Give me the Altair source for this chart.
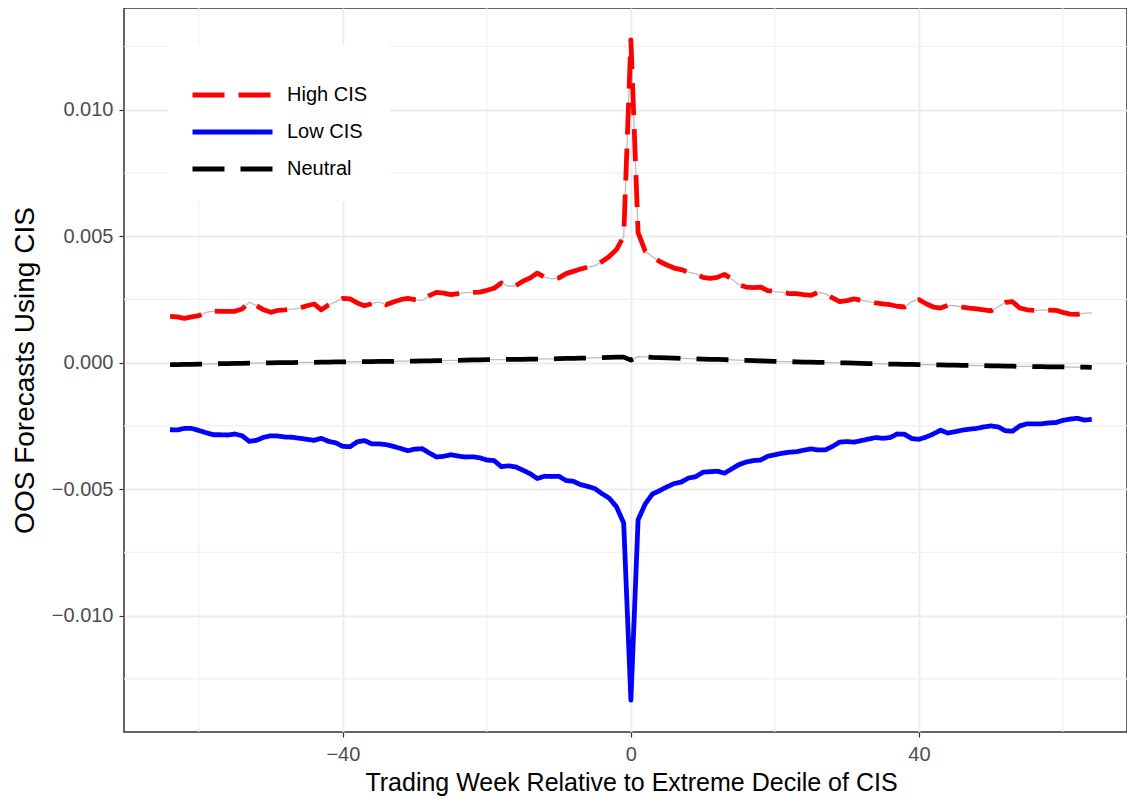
import altair as alt
import pandas as pd

weeks = list(range(-64, 65))

high_cis = [
    0.00183, 0.00181, 0.00175, 0.00181, 0.00186, 0.00199, 0.00204, 0.00203, 0.00203, 0.00203,
    0.00212, 0.00239, 0.00225, 0.00209, 0.00199, 0.00207, 0.00209, 0.00212, 0.00216, 0.00225,
    0.00232, 0.00209, 0.00228, 0.00241, 0.00254, 0.00252, 0.00236, 0.00225, 0.00233, 0.00240,
    0.00229, 0.00240, 0.00249, 0.00254, 0.00249, 0.00245, 0.00265, 0.00278, 0.00275, 0.00269,
    0.00273, 0.00277, 0.00278, 0.00279, 0.00286, 0.00294, 0.00315, 0.00302, 0.00304, 0.00322,
    0.00335, 0.00354, 0.00338, 0.00331, 0.00335, 0.00352, 0.00361, 0.00370, 0.00378, 0.00383,
    0.00400, 0.00420, 0.00447, 0.00499,
    0.01276,
    0.00514, 0.00440, 0.00418, 0.00400, 0.00386, 0.00374, 0.00368, 0.00358, 0.00352, 0.00337,
    0.00333, 0.00337, 0.00349, 0.00331, 0.00308, 0.00299, 0.00297, 0.00299, 0.00285, 0.00281,
    0.00278, 0.00273, 0.00273, 0.00269, 0.00266, 0.00278, 0.00273, 0.00256, 0.00241, 0.00245,
    0.00252, 0.00247, 0.00241, 0.00236, 0.00232, 0.00229, 0.00223, 0.00220, 0.00241, 0.00249,
    0.00233, 0.00220, 0.00216, 0.00226, 0.00225, 0.00220, 0.00216, 0.00213, 0.00209, 0.00205,
    0.00220, 0.00238, 0.00241, 0.00216, 0.00209, 0.00207, 0.00208, 0.00208, 0.00207, 0.00199,
    0.00192, 0.00191, 0.00196, 0.00197,
]

low_cis = [
    -0.00265, -0.00266, -0.00260, -0.00260, -0.00268, -0.00277, -0.00285, -0.00285, -0.00286, -0.00282,
    -0.00289, -0.00311, -0.00307, -0.00295, -0.00289, -0.00290, -0.00294, -0.00295, -0.00299, -0.00303,
    -0.00307, -0.00299, -0.00311, -0.00317, -0.00331, -0.00332, -0.00313, -0.00308, -0.00321, -0.00321,
    -0.00324, -0.00331, -0.00339, -0.00348, -0.00342, -0.00340, -0.00357, -0.00373, -0.00370, -0.00364,
    -0.00369, -0.00373, -0.00372, -0.00376, -0.00385, -0.00387, -0.00411, -0.00408, -0.00412, -0.00425,
    -0.00439, -0.00458, -0.00449, -0.00450, -0.00449, -0.00466, -0.00469, -0.00482, -0.00489, -0.00498,
    -0.00518, -0.00536, -0.00570, -0.00634,
    -0.01334,
    -0.00621, -0.00558, -0.00519, -0.00506, -0.00491, -0.00478, -0.00472, -0.00456, -0.00451, -0.00433,
    -0.00431, -0.00429, -0.00437, -0.00420, -0.00403, -0.00393, -0.00387, -0.00385, -0.00370, -0.00364,
    -0.00358, -0.00354, -0.00352, -0.00346, -0.00341, -0.00345, -0.00345, -0.00331, -0.00314, -0.00312,
    -0.00314, -0.00308, -0.00302, -0.00296, -0.00299, -0.00296, -0.00282, -0.00283, -0.00300, -0.00303,
    -0.00294, -0.00282, -0.00267, -0.00278, -0.00273, -0.00267, -0.00263, -0.00260, -0.00254, -0.00250,
    -0.00254, -0.00269, -0.00271, -0.00250, -0.00242, -0.00242, -0.00242, -0.00238, -0.00237, -0.00228,
    -0.00223, -0.00220, -0.00227, -0.00224,
]

neutral = [
    -0.00008, -0.00008, -0.00007, -0.00007, -0.00006, -0.00006, -0.00005, -0.00004, -0.00004, -0.00003,
    -0.00003, -0.00002, -0.00002, -0.00001, -0.00001, 0.00000, 0.00000, 0.00000, 0.00001, 0.00001,
    0.00001, 0.00002, 0.00002, 0.00003, 0.00003, 0.00003, 0.00004, 0.00004, 0.00004, 0.00005,
    0.00005, 0.00005, 0.00006, 0.00006, 0.00006, 0.00007, 0.00007, 0.00008, 0.00008, 0.00009,
    0.00009, 0.00010, 0.00011, 0.00011, 0.00012, 0.00012, 0.00012, 0.00013, 0.00013, 0.00013,
    0.00014, 0.00014, 0.00015, 0.00015, 0.00016, 0.00017, 0.00017, 0.00018, 0.00018, 0.00019,
    0.00020, 0.00021, 0.00022, 0.00022,
    0.00010,
    0.00024, 0.00023, 0.00021, 0.00020, 0.00019, 0.00018, 0.00017, 0.00016, 0.00015, 0.00014,
    0.00013, 0.00013, 0.00012, 0.00011, 0.00010, 0.00009, 0.00008, 0.00007, 0.00006, 0.00005,
    0.00004, 0.00004, 0.00003, 0.00002, 0.00002, 0.00001, 0.00001, 0.00000, -0.00001, -0.00001,
    -0.00002, -0.00003, -0.00004, -0.00004, -0.00005, -0.00006, -0.00006, -0.00007, -0.00007, -0.00008,
    -0.00008, -0.00009, -0.00009, -0.00010, -0.00010, -0.00011, -0.00011, -0.00012, -0.00012, -0.00013,
    -0.00013, -0.00014, -0.00014, -0.00015, -0.00015, -0.00016, -0.00016, -0.00017, -0.00017, -0.00017,
    -0.00018, -0.00018, -0.00018, -0.00019,
]

series_names = ["High CIS", "Low CIS", "Neutral"]
series_colors = ["#ff0000", "#0000ff", "#000000"]
series_dashes = [[32, 14], [1, 0], [32, 16]]

x_major = [-40, 0, 40]
x_minor = [-60, -20, 20, 60]
y_major = [-0.010, -0.005, 0.0, 0.005, 0.010]
y_minor = [-0.0125, -0.0075, -0.0025, 0.0025, 0.0075, 0.0125]

assert len(high_cis) == len(weeks) and len(low_cis) == len(weeks) and len(neutral) == len(weeks)

rows = []
for name, vals in zip(series_names, [high_cis, low_cis, neutral]):
    for w, v in zip(weeks, vals):
        rows.append({"week": w, "value": v, "series": name})
df = pd.DataFrame(rows)

FONT = "Liberation Sans"
x_scale = alt.Scale(domain=[-70.4, 68.9], nice=False, zero=False)
y_scale = alt.Scale(domain=[-0.0146, 0.01402], nice=False, zero=False)

x_axis = alt.Axis(
    values=x_major, format="d", title="Trading Week Relative to Extreme Decile of CIS",
    grid=True, gridColor="#ebebeb", gridWidth=1.8,
    domain=False, ticks=True, tickColor="#333333", tickSize=5, tickWidth=1.2,
    labelFontSize=20, labelColor="#4d4d4d", labelPadding=7, labelFont=FONT,
    titleFontSize=25, titleFontWeight="normal", titleColor="#000000", titleFont=FONT,
    titlePadding=6, titleX=507, titleAlign="center",
)
y_axis = alt.Axis(
    values=y_major, format=".3f", title="OOS Forecasts Using CIS",
    grid=True, gridColor="#ebebeb", gridWidth=1.8,
    domain=False, ticks=True, tickColor="#333333", tickSize=5, tickWidth=1.2,
    labelFontSize=20, labelColor="#4d4d4d", labelPadding=6, labelFont=FONT,
    titleFontSize=28, titleFontWeight="normal", titleColor="#000000", titleFont=FONT,
    titlePadding=12,
)
x_enc = alt.X("week:Q", scale=x_scale, axis=x_axis)
y_enc = alt.Y("value:Q", scale=y_scale, axis=y_axis)

legend_opts = dict(
    orient="none", legendX=44, legendY=37, title=" ", titleFontSize=12, titlePadding=6,
    fillColor="white", padding=22, symbolType="stroke", symbolSize=6400,
    symbolStrokeWidth=5, clipHeight=20, rowPadding=17, labelOffset=12,
    labelFontSize=20, labelFont=FONT, labelColor="#000000",
)

x_minor_rules = alt.Chart(pd.DataFrame({"week": x_minor})).mark_rule(
    color="#f0f0f0", strokeWidth=1.1
).encode(x=x_enc)

y_minor_rules = alt.Chart(pd.DataFrame({"value": y_minor})).mark_rule(
    color="#f0f0f0", strokeWidth=1.1
).encode(y=y_enc)

gray_lines = alt.Chart(df).mark_line(color="#bdbdbd", strokeWidth=1.3).encode(
    x=x_enc, y=y_enc, detail="series:N",
)

main_lines = alt.Chart(df).mark_line(strokeWidth=4.8, strokeCap="butt", strokeJoin="round").encode(
    x=x_enc,
    y=y_enc,
    color=alt.Color(
        "series:N",
        scale=alt.Scale(domain=series_names, range=series_colors),
        legend=alt.Legend(**legend_opts),
    ),
    strokeDash=alt.StrokeDash(
        "series:N",
        scale=alt.Scale(domain=series_names, range=series_dashes),
        legend=alt.Legend(**legend_opts),
    ),
)

chart = alt.layer(x_minor_rules, y_minor_rules, gray_lines, main_lines).properties(
    width=1003, height=724,
    autosize=alt.AutoSizeParams(type="none"),
    padding={"left": 116, "top": 0, "right": 0, "bottom": 64},
).configure(
    font=FONT, background="white",
    view=alt.ViewConfig(stroke="#333333", strokeWidth=1.5),
)

chart.save("out.html", embed_options={"renderer": "svg", "actions": False})
